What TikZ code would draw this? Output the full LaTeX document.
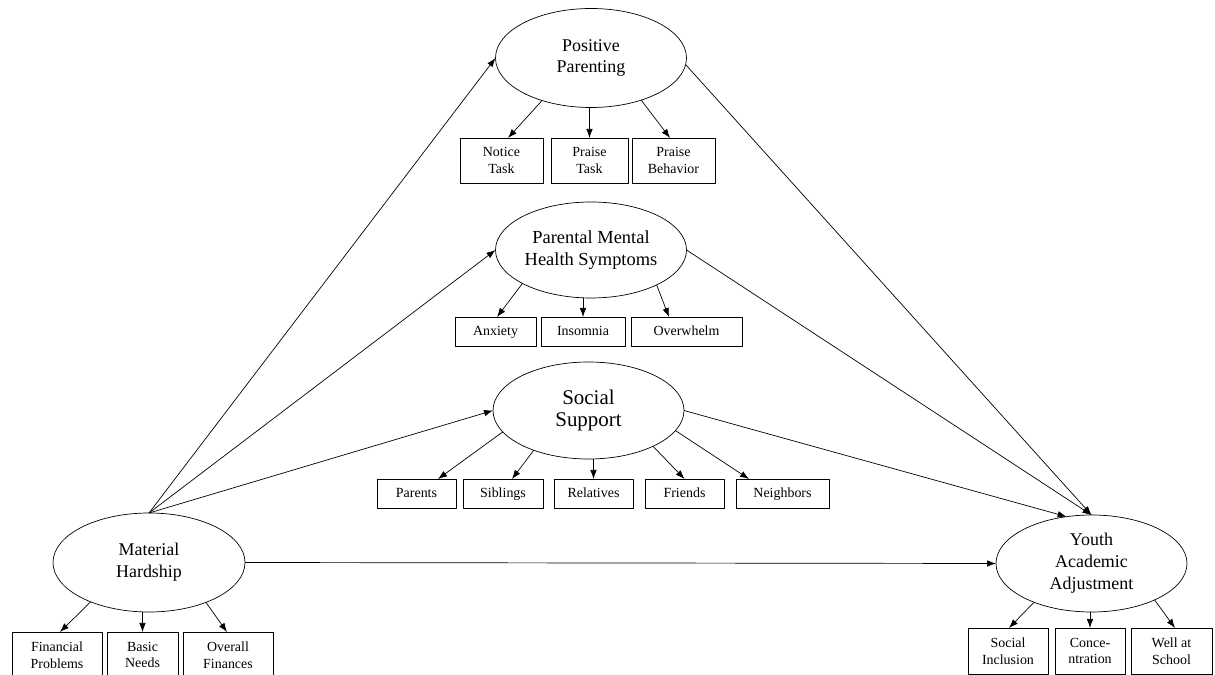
\documentclass[tikz,border=0pt]{standalone}
\usepackage{fontspec}
\setmainfont{Liberation Serif}
\usetikzlibrary{shapes.geometric,arrows.meta}
\tikzset{
  latent/.style={draw,ellipse,inner sep=0pt,outer sep=0pt,minimum width=191bp,minimum height=97bp,align=center,font=\fontsize{18}{22}\selectfont},
  indicator/.style={draw,rectangle,inner sep=0pt,outer sep=0pt,minimum height=45bp,align=center,font=\fontsize{14}{16.7}\selectfont},
  oneline/.style={indicator,minimum height=29bp,text height=10bp,text depth=1bp},
}
\begin{document}
\begin{tikzpicture}[>={Latex[length=9bp,width=6.5bp]},line join=bevel,line width=0.7pt]
\useasboundingbox (0bp,0bp) rectangle (1215bp,675bp);
%% latent variables
\node (pos_par) at (591bp,617bp) [latent,minimum height=99bp] {Positive\\Parenting};
  \node (par_mh) at (591bp,425bp) [latent,minimum height=96bp,font=\fontsize{18.5}{22}\selectfont] {Parental Mental\\Health Symptoms};
  \node (soc_sup) at (588.5bp,264.5bp) [latent,font=\fontsize{21}{23}\selectfont] {Social\\Support};
  \node (mat_hard) at (149bp,112.5bp) [latent,minimum width=192bp,minimum height=99bp] {Material\\Hardship};
  \node (youth_aa) at (1091.5bp,111.5bp) [latent] {Youth\\Academic\\Adjustment};
%% indicators
\node (notice_task) at (501.5bp,514.5bp) [indicator,minimum width=83bp] {Notice\\Task};
  \node (praise_task) at (589.5bp,514.5bp) [indicator,minimum width=77bp] {Praise\\Task};
  \node (praise_beh) at (673.5bp,514.5bp) [indicator,minimum width=83bp] {Praise\\Behavior};
  \node (anxiety) at (495.5bp,343.5bp) [oneline,minimum width=81bp] {Anxiety};
  \node (insomnia) at (583bp,343.5bp) [oneline,minimum width=84bp] {Insomnia};
  \node (overwhelm) at (686.5bp,343.5bp) [oneline,minimum width=111bp] {Overwhelm};
  \node (parents) at (416.5bp,181.5bp) [oneline,minimum width=79bp] {Parents};
  \node (siblings) at (503bp,181.5bp) [oneline,minimum width=80bp] {Siblings};
  \node (relatives) at (593.5bp,181.5bp) [oneline,minimum width=79bp] {Relatives};
  \node (friends) at (684.5bp,181.5bp) [oneline,minimum width=79bp] {Friends};
  \node (neighbors) at (782.5bp,181.5bp) [oneline,minimum width=93bp] {Neighbors};
  \node (fin_prob) at (57bp,20bp) [indicator,minimum width=90bp,minimum height=46bp] {Financial\\Problems};
  \node (basic_needs) at (142.5bp,20bp) [indicator,minimum width=71bp,minimum height=46bp] {Basic\\Needs};
  \node (overall_fin) at (228bp,20bp) [indicator,minimum width=90bp,minimum height=46bp] {Overall\\Finances};
  \node (soc_incl) at (1008bp,24bp) [indicator,minimum width=80bp,minimum height=46bp] {Social\\Inclusion};
  \node (concentr) at (1090bp,24bp) [indicator,minimum width=70bp,minimum height=46bp] {Conce-\\ntration};
  \node (well_school) at (1171.5bp,24bp) [indicator,minimum width=81bp,minimum height=46bp] {Well at\\School};
%% measurement paths
\draw [black,->] (pos_par.221) -- ([xshift=6.5bp]notice_task.north);
  \draw [black,->] (praise_task.north |- pos_par.south) -- (praise_task.north);
  \draw [black,->] (pos_par.320) -- ([xshift=-3.5bp]praise_beh.north);
  \draw [black,->] (par_mh.206) -- ([xshift=1.5bp]anxiety.north);
  \draw [black,->] (insomnia.north |- par_mh.south) -- (insomnia.north);
  \draw [black,->] (par_mh.332) -- ([xshift=-17.5bp]overwhelm.north);
  \draw [black,->] (soc_sup.194) -- ([xshift=21.5bp]parents.north);
  \draw [black,->] (soc_sup.216) -- ([xshift=9bp]siblings.north);
  \draw [black,->] (relatives.north |- soc_sup.south) -- (relatives.north);
  \draw [black,->] (soc_sup.331) -- (friends.north);
  \draw [black,->] (soc_sup.347) -- ([xshift=-33.5bp]neighbors.north);
  \draw [black,->] (mat_hard.214) -- ([xshift=3bp]fin_prob.north);
  \draw [black,->] (basic_needs.north |- mat_hard.south) -- (basic_needs.north);
  \draw [black,->] (mat_hard.325) -- ([xshift=-1bp]overall_fin.north);
  \draw [black,->] (youth_aa.214) -- ([xshift=1bp]soc_incl.north);
  \draw [black,->] (concentr.north |- youth_aa.south) -- (concentr.north);
  \draw [black,->] (youth_aa.330) -- ([xshift=3.5bp]well_school.north);
%% structural paths
\draw [black,->] (mat_hard.north) -- (pos_par.west);
  \draw [black,->] (mat_hard.north) -- (par_mh.west);
  \draw [black,->] (mat_hard.north) -- (soc_sup.west);
  \draw [black,->] (mat_hard.east) -- (youth_aa.west);
  \draw [black,->] (pos_par.356) -- (youth_aa.north);
  \draw [black,->] (par_mh.east) -- (youth_aa.north);
  \draw [black,->] (soc_sup.east) -- (youth_aa.118);
%
\end{tikzpicture}
\end{document}
